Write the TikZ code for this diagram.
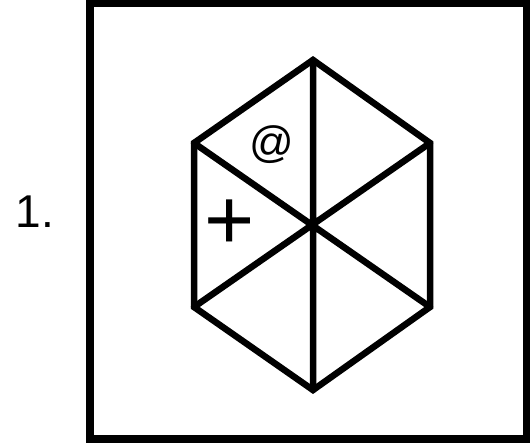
\documentclass[tikz,border=0pt]{standalone}
\usepackage{fontspec}
\setmainfont{Liberation Sans}
\begin{document}
\begin{tikzpicture}[x=1pt,y=-1pt,
  frame/.style={draw=black,line width=8pt},
  hexline/.style={draw=black,line width=6.5pt,line join=miter,line cap=round},
  lbl/.style={inner sep=0pt,anchor=center}]
\useasboundingbox (0,0) rectangle (530,447);
\draw[frame] (90,3) rectangle (527,439);
\coordinate (c) at (313,225);
\coordinate (t) at (313,60);
\coordinate (ur) at (430,143);
\coordinate (lr) at (430,307);
\coordinate (b) at (313,390);
\coordinate (ll) at (194,307);
\coordinate (ul) at (194,143);
\draw[hexline] (t) -- (ur) -- (lr) -- (b) -- (ll) -- (ul) -- cycle;
\draw[hexline] (t) -- (b) (ul) -- (lr) (ur) -- (ll);
\node[lbl] (num) at (35,212) {\fontsize{46}{48}\selectfont 1.};
\node[lbl] (at) at (272,145) {\fontsize{44}{46}\selectfont @};
\node[lbl] (plus) at (230,225) {\fontsize{86}{86}\selectfont +};
\end{tikzpicture}
\end{document}
